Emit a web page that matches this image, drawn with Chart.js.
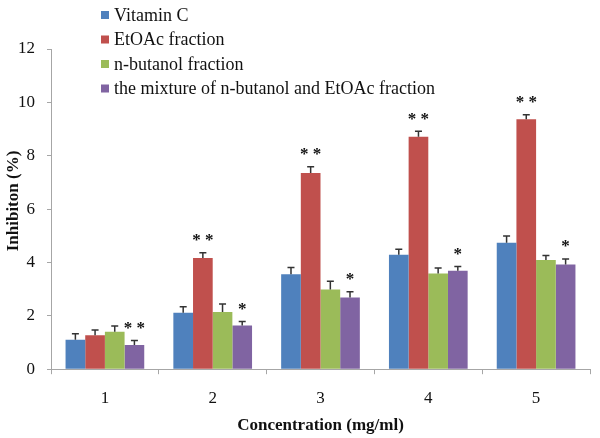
<!DOCTYPE html>
<html>
<head>
<meta charset="utf-8">
<script src="https://cdn.jsdelivr.net/npm/chart.js@4.4.1/dist/chart.umd.min.js"></script>
<style>
  html, body { margin: 0; padding: 0; background: #fff; }
  #wrap { width: 600px; height: 438px; position: relative; }
</style>
</head>
<body>
<div id="wrap"><canvas id="chart"></canvas></div>
<script>
var CATEGORIES = ['1', '2', '3', '4', '5'];

var VITC = [1.10, 2.12, 3.56, 4.29, 4.74];
var VITC_ERR = [0.23, 0.22, 0.25, 0.21, 0.25];

var ETOAC = [1.27, 4.17, 7.35, 8.71, 9.37];
var ETOAC_ERR = [0.20, 0.19, 0.24, 0.21, 0.17];
var ETOAC_SIG = ['', '**', '**', '**', '**'];

var BUTANOL = [1.40, 2.14, 2.99, 3.59, 4.09];
var BUTANOL_ERR = [0.22, 0.30, 0.31, 0.20, 0.17];

var MIXTURE = [0.91, 1.64, 2.69, 3.69, 3.92];
var MIXTURE_ERR = [0.17, 0.15, 0.21, 0.16, 0.21];
var MIXTURE_SIG = ['**', '*', '*', '*', '*'];

var Y_TICKS = [0, 2, 4, 6, 8, 10, 12];
var Y_TITLE = 'Inhibiton (%)';

var SERIF = "'Liberation Serif', 'Times New Roman', serif";

// error bars (upper half only, as in the original) and significance stars
var errorBars = {
  id: 'errorBars',
  afterDatasetsDraw: function (chart) {
    var ctx = chart.ctx;
    var y = chart.scales.y;
    ctx.save();
    chart.data.datasets.forEach(function (ds, di) {
      var meta = chart.getDatasetMeta(di);
      meta.data.forEach(function (bar, i) {
        var top = y.getPixelForValue(ds.data[i] + ds.errors[i]);
        ctx.strokeStyle = '#333';
        ctx.lineWidth = 1.5;
        ctx.beginPath();
        ctx.moveTo(bar.x, bar.y);
        ctx.lineTo(bar.x, top);
        ctx.moveTo(bar.x - 3.5, top);
        ctx.lineTo(bar.x + 3.5, top);
        ctx.stroke();
        if (ds.sig && ds.sig[i]) {
          ctx.fillStyle = '#111';
          ctx.font = 'bold 17px ' + SERIF;
          ctx.textAlign = 'center';
          ctx.textBaseline = 'middle';
          ctx.fillText(ds.sig[i].split('').join(' '), bar.x, top - 12);
        }
      });
    });
    ctx.restore();
  },
};

// vertical legend over the top left of the plot, plus the y title
// (the original squeezes the title right up against the tick labels)
var sideLegend = {
  id: 'sideLegend',
  afterDraw: function (chart) {
    var ctx = chart.ctx;
    ctx.save();
    ctx.font = '18px ' + SERIF;
    ctx.textAlign = 'left';
    ctx.textBaseline = 'middle';
    chart.data.datasets.forEach(function (ds, i) {
      var cy = 15 + i * 24.5;
      ctx.fillStyle = ds.backgroundColor;
      ctx.fillRect(101, cy - 4, 8, 8);
      ctx.fillStyle = '#111';
      ctx.fillText(ds.label, 114, cy + 1);
    });

    ctx.translate(14, 201);
    ctx.rotate(-Math.PI / 2);
    ctx.font = 'bold 17px ' + SERIF;
    ctx.textAlign = 'center';
    ctx.fillText(Y_TITLE, 0, 0);
    ctx.restore();
  },
};

new Chart(document.getElementById('chart'), {
  type: 'bar',
  data: {
    labels: CATEGORIES,
    datasets: [
      { label: 'Vitamin C', data: VITC, errors: VITC_ERR, backgroundColor: '#4F81BD' },
      { label: 'EtOAc fraction', data: ETOAC, errors: ETOAC_ERR, sig: ETOAC_SIG, backgroundColor: '#C0504D' },
      { label: 'n-butanol fraction', data: BUTANOL, errors: BUTANOL_ERR, backgroundColor: '#9BBB59' },
      { label: 'the mixture of n-butanol and EtOAc fraction', data: MIXTURE, errors: MIXTURE_ERR, sig: MIXTURE_SIG, backgroundColor: '#8064A2' },
    ],
  },
  options: {
    responsive: true,
    maintainAspectRatio: false,
    animation: false,
    categoryPercentage: 0.73,
    barPercentage: 1.0,
    layout: { padding: { top: 49, right: 10, left: 6, bottom: 2 } },
    plugins: {
      legend: { display: false },
      tooltip: { enabled: false },
    },
    scales: {
      x: {
        grid: { display: true, drawOnChartArea: false, drawTicks: true, tickLength: 5, color: '#a6a6a6', offset: true },
        border: { color: '#a6a6a6' },
        ticks: { color: '#111', padding: 14, font: { family: SERIF, size: 17 } },
        title: { display: true, text: 'Concentration (mg/ml)', color: '#111', padding: { top: -7, bottom: 0 }, font: { family: SERIF, size: 17, weight: 'bold' } },
      },
      y: {
        min: 0,
        max: 12,
        afterBuildTicks: function (axis) {
          axis.ticks = Y_TICKS.map(function (v) { return { value: v }; });
        },
        grid: { display: true, drawOnChartArea: false, drawTicks: true, tickLength: 4, color: '#a6a6a6' },
        border: { color: '#a6a6a6' },
        ticks: { color: '#111', padding: 12, font: { family: SERIF, size: 17 } },
      },
    },
  },
  plugins: [errorBars, sideLegend],
});
</script>
</body>
</html>
